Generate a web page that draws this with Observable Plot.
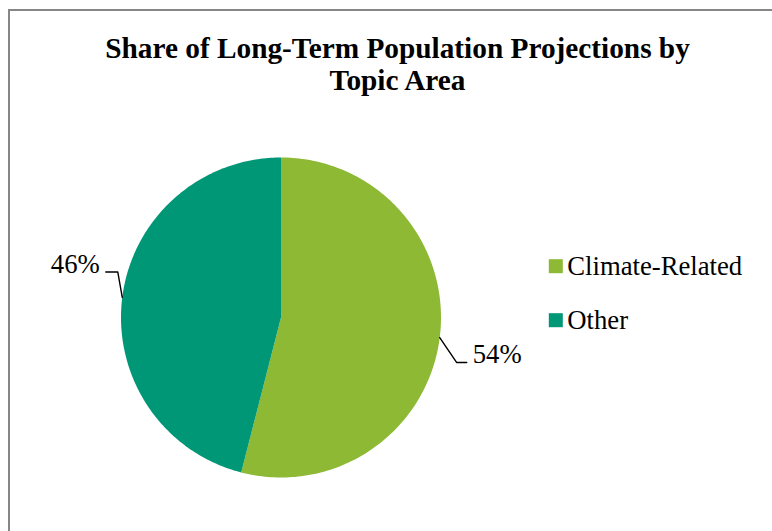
<!DOCTYPE html>
<html><head><meta charset="utf-8">
<script src="https://cdn.jsdelivr.net/npm/d3@7"></script>
<script src="https://cdn.jsdelivr.net/npm/@observablehq/plot@0.6"></script>
<style>
html,body{margin:0;padding:0;background:#fff;overflow:hidden;}
#wrap{position:relative;width:772px;height:531px;overflow:hidden;background:#fff;}
#wrap svg{position:absolute;left:0;top:0;}
#frame{position:absolute;left:8px;top:9px;width:900px;height:700px;border-left:2px solid #868686;border-top:2px solid #868686;}
</style></head><body><div id="wrap"></div>
<script>
// ---- data ----
const categories = ["Climate-Related", "Other"];
const shares = [54, 46];
const shareLabels = ["54%", "46%"];
const colors = ["#8DB935", "#009777"];
const titleLines = ["Share of Long-Term Population Projections by", "Topic Area"];

// ---- layout (pixels) ----
const W = 772, H = 531, cx = 280.5, cy = 317, R = 160;
const leader = [
  {elbow: [17, 25], end: [27, 25], text: [33, 25.8], anchor: "start"},
  {elbow: [-4.5, -25.5], end: [-16.5, -25.5], text: [-22.5, -24.5], anchor: "end"}
];
const legendX = 555.3, legendY0 = 265.7, legendStep = 54, legendTextDx = 11.5;
const titleX = 397, titleBaseline2 = 89.5;
const FONT = "Liberation Serif";

// pixel -> data helpers (data y axis points up, centered on pie)
const dx = px => px - cx;
const dy = py => cy - py;

const arcs = d3.pie().sort(null).value(d => d)(shares);

const slicePts = [];
arcs.forEach((a, i) => {
  const cat = categories[i];
  slicePts.push({x: 0, y: 0, cat});
  const n = 180;
  for (let k = 0; k <= n; k++) {
    const t = a.startAngle + (a.endAngle - a.startAngle) * k / n;
    slicePts.push({x: R * Math.sin(t), y: R * Math.cos(t), cat});
  }
  slicePts.push({x: 0, y: 0, cat});
});

const leaderPts = [];
const labelRows = [];
arcs.forEach((a, i) => {
  const mid = (a.startAngle + a.endAngle) / 2;
  const mx = R * Math.sin(mid), my = R * Math.cos(mid);
  const L = leader[i];
  leaderPts.push({x: mx, y: my, k: i});
  leaderPts.push({x: mx + L.elbow[0], y: my - L.elbow[1], k: i});
  leaderPts.push({x: mx + L.end[0], y: my - L.end[1], k: i});
  labelRows.push({x: mx + L.text[0], y: my - L.text[1], label: shareLabels[i], anchor: L.anchor});
});

const legendRows = categories.map((c, i) => ({
  cat: c, x: dx(legendX), y: dy(legendY0 + i * legendStep)
}));

const chart = Plot.plot({
  width: W, height: H, margin: 0,
  style: {background: "transparent"},
  x: {domain: [-cx, W - cx], axis: null},
  y: {domain: [-(H - cy), cy], axis: null},
  color: {domain: categories, range: colors},
  marks: [
    Plot.line(slicePts, {x: "x", y: "y", z: "cat", fill: "cat", stroke: null}),
    Plot.line(leaderPts, {x: "x", y: "y", z: "k", stroke: "#000", strokeWidth: 1.4}),
    Plot.text(labelRows.filter(d => d.anchor === "start"), {x: "x", y: "y", text: "label", textAnchor: "start", lineAnchor: "bottom", fontFamily: FONT, fontSize: 26.7, fill: "#000"}),
    Plot.text(labelRows.filter(d => d.anchor === "end"), {x: "x", y: "y", text: "label", textAnchor: "end", lineAnchor: "bottom", fontFamily: FONT, fontSize: 26.7, fill: "#000"}),
    Plot.dot(legendRows, {x: "x", y: "y", fill: "cat", stroke: null, symbol: "square", r: 7.9}),
    Plot.text(legendRows, {x: d => d.x + legendTextDx, y: "y", text: "cat", textAnchor: "start", lineAnchor: "middle", fontFamily: FONT, fontSize: 26.7, fill: "#000"}),
    Plot.text([titleLines.join("\n")], {x: dx(titleX), y: dy(titleBaseline2), text: d => d, textAnchor: "middle", lineAnchor: "bottom", lineHeight: 1.09, fontFamily: FONT, fontSize: 29.3, fontWeight: "bold", fill: "#000"})
  ]
});

const wrap = document.getElementById("wrap");
wrap.appendChild(chart);
const frame = document.createElement("div");
frame.id = "frame";
wrap.appendChild(frame);
</script>
</body></html>
